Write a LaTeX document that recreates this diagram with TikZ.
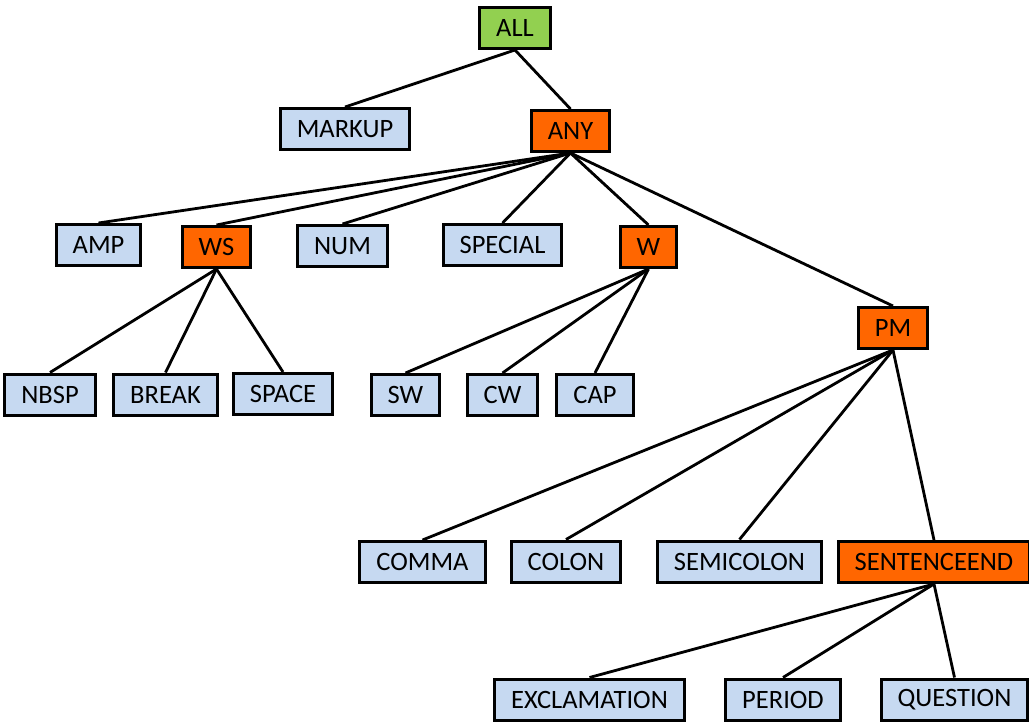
\documentclass[tikz,border=0pt]{standalone}
\usepackage{fontspec}
\setmainfont{Carlito}
\definecolor{leafblue}{HTML}{C6D9F1}
\definecolor{innerorange}{HTML}{FF6600}
\definecolor{rootgreen}{HTML}{92D050}
\begin{document}
\begin{tikzpicture}[x=1pt,y=-1pt,line width=2.8pt,
    every node/.style={font=\fontsize{26.5}{30}\selectfont},
    cat/.style={draw,line width=3pt,fill=leafblue,minimum height=41pt,inner xsep=16.5pt,inner ysep=0pt},
    group/.style={cat,fill=innerorange},
    root/.style={cat,fill=rootgreen}]
    \useasboundingbox (0,0) rectangle (1029,721);
            \node [root] (ALL) at (515,28) {ALL};
            \node [cat] (MARKUP) at (345,129) {MARKUP};
            \node [group] (ANY) at (570.5,131) {ANY};
            \node [cat] (AMP) at (98.5,245) {AMP};
            \node [group] (WS) at (216.5,247) {WS};
            \node [cat] (NUM) at (342.5,246) {NUM};
            \node [cat] (SPECIAL) at (502.5,245) {SPECIAL};
            \node [group] (W) at (648.5,247) {W};
            \node [group] (PM) at (893,328) {PM};
            \node [cat] (NBSP) at (50,394.5) {NBSP};
            \node [cat] (BREAK) at (165.5,394.5) {BREAK};
            \node [cat] (SPACE) at (283,394) {SPACE};
            \node [cat] (SW) at (405.5,395) {SW};
            \node [cat] (CW) at (502.5,395) {CW};
            \node [cat] (CAP) at (595,395) {CAP};
            \node [cat] (COMMA) at (422.5,562) {COMMA};
            \node [cat] (COLON) at (566,561.5) {COLON};
            \node [cat] (SEMICOLON) at (739.5,561.5) {SEMICOLON};
            \node [group] (SENTENCEEND) at (934,562) {SENTENCEEND};
            \node [cat] (EXCLAMATION) at (589.5,699.5) {EXCLAMATION};
            \node [cat] (PERIOD) at (783,699.5) {PERIOD};
            \node [cat] (QUESTION) at (954.5,699.5) {QUESTION};
            \foreach \kid in {MARKUP,ANY}
                \draw (ALL.south) -- (\kid.north);
            \foreach \kid in {AMP,WS,NUM,SPECIAL,W,PM}
                \draw (ANY.south) -- (\kid.north);
            \foreach \kid in {NBSP,BREAK,SPACE}
                \draw (WS.south) -- (\kid.north);
            \foreach \kid in {SW,CW,CAP}
                \draw (W.south) -- (\kid.north);
            \foreach \kid in {COMMA,COLON,SEMICOLON,SENTENCEEND}
                \draw (PM.south) -- (\kid.north);
            \foreach \kid in {EXCLAMATION,PERIOD,QUESTION}
                \draw (SENTENCEEND.south) -- (\kid.north);
        \end{tikzpicture}
\end{document}
